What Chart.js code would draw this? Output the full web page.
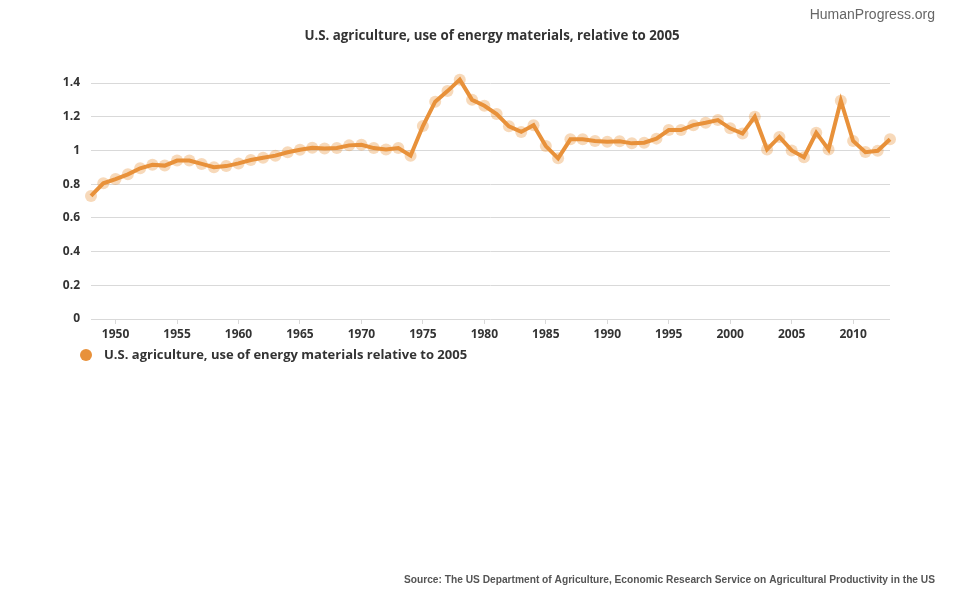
<!DOCTYPE html>
<html>
<head>
<meta charset="utf-8">
<title>U.S. agriculture, use of energy materials</title>
<script src="https://cdn.jsdelivr.net/npm/chart.js@4"></script>
<style>
  body { margin: 0; background: #fff; }
  canvas { display: block; }
</style>
</head>
<body>
<canvas id="grafico" width="970" height="600"></canvas>
<script>
const years = [];
for (let y = 1948; y <= 2013; y++) years.push(y);

const energyUse = [
  0.73, 0.805, 0.83, 0.858, 0.894, 0.915, 0.91, 0.94, 0.94, 0.92,
  0.90, 0.907, 0.923, 0.943, 0.957, 0.969, 0.989, 1.004, 1.016, 1.012,
  1.014, 1.03, 1.034, 1.014, 1.006, 1.014, 0.969, 1.145, 1.289, 1.352,
  1.42, 1.30, 1.265, 1.216, 1.143, 1.11, 1.15, 1.026, 0.953, 1.066,
  1.066, 1.056, 1.052, 1.054, 1.042, 1.046, 1.07, 1.121, 1.121, 1.15,
  1.164, 1.18, 1.131, 1.10, 1.20, 1.006, 1.08, 1.00, 0.96, 1.105,
  1.006, 1.295, 1.056, 0.99, 0.998, 1.066
];

const chartTitle = "U.S. agriculture, use of energy materials, relative to 2005";
const seriesLabel = "U.S. agriculture, use of energy materials relative to 2005";
const sourceText = "Source: The US Department of Agriculture, Economic Research Service on Agricultural Productivity in the US";
const creditText = "HumanProgress.org";

const naranja = "#e8913a";

const textos = {
  id: "textos",
  afterDraw(chart) {
    const c = chart.ctx;
    c.save();
    c.fillStyle = "#333";
    c.font = "bold 13.3px 'Open Sans'";
    c.textAlign = "center";
    c.textBaseline = "middle";
    c.fillText(chartTitle, 492, 36);

    c.fillStyle = "#666";
    c.font = "14px 'Liberation Sans'";
    c.textAlign = "right";
    c.fillText(creditText, 935, 15);

    c.fillStyle = "#555";
    c.font = "bold 10.2px 'Liberation Sans'";
    c.fillText(sourceText, 935, 580);

    // leyenda
    c.fillStyle = naranja;
    c.beginPath();
    c.arc(86, 355, 6, 0, Math.PI * 2);
    c.fill();
    c.fillStyle = "#333";
    c.font = "bold 13px 'Open Sans'";
    c.textAlign = "left";
    c.fillText(seriesLabel, 104, 355);
    c.restore();
  }
};

new Chart(document.getElementById("grafico"), {
  type: "line",
  data: {
    labels: years,
    datasets: [
      {
        label: seriesLabel,
        data: energyUse,
        borderColor: naranja,
        borderWidth: 4,
        pointRadius: 0,
        fill: false,
        clip: false,
        order: 0
      },
      {
        label: seriesLabel,
        data: energyUse,
        showLine: false,
        pointRadius: 6,
        pointBorderWidth: 0,
        pointBackgroundColor: "rgba(232,145,58,0.35)",
        clip: false,
        order: 1
      }
    ]
  },
  options: {
    responsive: false,
    animation: false,
    layout: { padding: { top: 83, right: 80, bottom: 600 - 319 - 26, left: 0 } },
    plugins: {
      legend: { display: false },
      tooltip: { enabled: false }
    },
    scales: {
      x: {
        offset: false,
        afterFit(scale) { scale.height = 26; },
        border: { display: false },
        grid: {
          drawOnChartArea: false,
          drawTicks: true,
          tickLength: 5,
          color: ctx => (years[ctx.index] % 5 === 0 ? "#d9d9d9" : "rgba(0,0,0,0)")
        },
        ticks: {
          autoSkip: false,
          maxRotation: 0,
          padding: 3,
          color: "#333",
          font: { family: "'Open Sans'", size: 12, weight: "bold" },
          callback: (v, i) => (years[i] % 5 === 0 ? String(years[i]) : "")
        }
      },
      y: {
        min: 0,
        max: 1.4,
        afterFit(scale) { scale.width = 91; },
        border: { display: false },
        grid: {
          drawTicks: false,
          color: ctx => (Math.round(ctx.tick.value * 10) % 2 === 0 ? "#d9d9d9" : "#f0f0f0")
        },
        ticks: {
          stepSize: 0.1,
          padding: 11,
          color: "#333",
          font: { family: "'Open Sans'", size: 12, weight: "bold" },
          callback: v => {
            const d = Math.round(v * 10);
            return d % 2 === 0 ? String(d / 10) : "";
          }
        }
      }
    }
  },
  plugins: [textos]
});
</script>
</body>
</html>
